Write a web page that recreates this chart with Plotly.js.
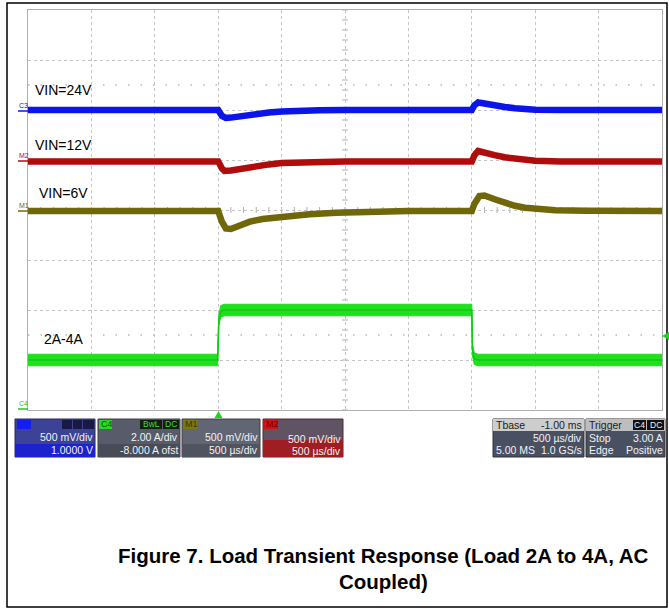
<!DOCTYPE html>
<html>
<head>
<meta charset="utf-8">
<script src="https://cdn.plot.ly/plotly-3.0.1.min.js"></script>
<style>html,body{margin:0;padding:0;background:#fff;}#chart{width:669px;height:609px;}</style>
</head>
<body>
<div id="chart"></div>
<script>
// ---- Data (time in ms, trigger at 0) ----
const timeBlue = [-1.5, 0, 0.03, 0.06, 0.1, 0.2, 0.3, 0.4, 0.5, 0.6, 0.8, 1.0, 2.0, 2.02, 2.05, 2.1, 2.18, 2.26, 2.34, 2.42, 2.5, 2.7, 3.5];
const blueMv   = [0, 0, -60, -80, -76, -55, -38, -25, -15, -8, -3, 0, 0, 45, 75, 65, 43, 30, 18, 9, 3, 0, 0];

const timeRed  = [-1.5, 0, 0.03, 0.05, 0.1, 0.2, 0.3, 0.4, 0.5, 0.7, 1.0, 2.0, 2.02, 2.05, 2.1, 2.18, 2.26, 2.34, 2.42, 2.5, 2.7, 3.5];
const redMv    = [0, 0, -70, -95, -90, -66, -46, -29, -16, -5, 0, 0, 60, 105, 95, 64, 42, 27, 15, 7, 0, 0];

const timeOlive = [-1.5, 0, 0.03, 0.06, 0.1, 0.15, 0.25, 0.35, 0.5, 0.72, 0.93, 1.2, 1.5, 2.0, 2.02, 2.06, 2.1, 2.18, 2.26, 2.34, 2.42, 2.5, 2.66, 2.9, 3.2, 3.5];
const oliveMv   = [0, 0, -110, -175, -180, -150, -106, -80, -56, -33, -18, -6, 0, 0, 70, 150, 155, 117, 80, 52, 32, 20, 8, 2, 0, 0];

const timeGreen = [-1.5, -0.005, 0.005, 0.02, 0.05, 2.0, 2.005, 2.02, 2.05, 3.5];
const loadAmps  = [2, 2, 3.6, 3.95, 4, 4, 2.4, 2.05, 2, 2];

const traceLabels = ["VIN=24V", "VIN=12V", "VIN=6V", "2A-4A"];
const captionLines = ["Figure 7. Load Transient Response (Load 2A to 4A, AC", "Coupled)"];

// ---- helpers: pixel -> paper ----
const PL = 28, PT = 10, PW = 634, PH = 400;
const px = p => (p - PL) / PW;
const py = p => (PT + PH - p) / PH;
const FONT = "Liberation Sans, Arial, sans-serif";

// green noise band half-thickness (style, in A)
const BAND = 0.23;
const greenUpper = loadAmps.map(v => v + BAND);
const greenLower = loadAmps.map(v => v - BAND);

const traces = [
  {x: timeBlue, y: blueMv, yaxis: 'y2', mode: 'lines', line: {color: 'rgb(10,20,235)', width: 6.5}, hoverinfo: 'skip'},
  {x: timeRed, y: redMv, yaxis: 'y3', mode: 'lines', line: {color: 'rgb(175,12,12)', width: 6.5}, hoverinfo: 'skip'},
  {x: timeOlive, y: oliveMv, yaxis: 'y4', mode: 'lines', line: {color: 'rgb(112,104,8)', width: 6.5}, hoverinfo: 'skip'},
  {x: timeGreen, y: greenLower, yaxis: 'y5', mode: 'lines', line: {color: 'rgb(30,220,30)', width: 1}, hoverinfo: 'skip'},
  {x: timeGreen, y: greenUpper, yaxis: 'y5', mode: 'lines', fill: 'tonexty', fillcolor: 'rgb(30,225,30)', line: {color: 'rgb(30,220,30)', width: 1}, hoverinfo: 'skip'},
  {x: timeGreen, y: loadAmps, yaxis: 'y5', mode: 'lines', line: {color: 'rgb(20,200,20)', width: 1.5}, hoverinfo: 'skip'}
];

const shapes = [];
const annotations = [];

// outer frame
shapes.push({type: 'rect', xref: 'paper', yref: 'paper', x0: px(7), x1: px(667), y0: py(3), y1: py(607), line: {color: '#000', width: 1.5}});

// center-line minor ticks
for (let k = -20; k <= 20; k++) {
  shapes.push({type: 'line', layer: 'below', xref: 'paper', yref: 'y', x0: px(342), x1: px(348), y0: k * 0.2, y1: k * 0.2, line: {color: '#b0b0b0', width: 1}});
}
for (let k = 0; k <= 50; k++) {
  const t = -1.5 + k * 0.1;
  shapes.push({type: 'line', layer: 'below', xref: 'x', yref: 'paper', x0: t, x1: t, y0: py(213), y1: py(207), line: {color: '#b0b0b0', width: 1}});
}
// sparse dotted level rows
[2.5, -2.5].forEach(v => shapes.push({type: 'line', layer: 'below', xref: 'paper', yref: 'y', x0: 0, x1: 1, y0: v, y1: v, line: {color: '#b8b8b8', width: 1.5, dash: '1.5px,11px'}}));

// channel tags on left
const tags = [
  {t: 'C3', y: 110, c: 'rgb(10,20,235)'},
  {t: 'M2', y: 160, c: 'rgb(175,12,12)'},
  {t: 'M1', y: 210, c: 'rgb(112,104,8)'},
  {t: 'C4', y: 408, c: 'rgb(30,200,30)'}
];
tags.forEach(g => {
  shapes.push({type: 'line', xref: 'paper', yref: 'paper', x0: px(18), x1: px(28), y0: py(g.y + 1), y1: py(g.y + 1), line: {color: g.c, width: 1.5}});
  annotations.push({xref: 'paper', yref: 'paper', x: px(18), y: py(g.y - 5), text: g.t, showarrow: false, xanchor: 'left', yanchor: 'middle', font: {family: FONT, size: 7, color: g.c}, borderpad: 0});
});

// trigger markers
shapes.push({type: 'path', xref: 'paper', yref: 'paper', path: `M ${px(214.5)},${py(418)} L ${px(222.5)},${py(418)} L ${px(218.5)},${py(411)} Z`, fillcolor: 'rgb(30,210,30)', line: {width: 0}});
shapes.push({type: 'path', xref: 'paper', yref: 'paper', path: `M ${px(662)},${py(336)} L ${px(669)},${py(332)} L ${px(669)},${py(340)} Z`, fillcolor: 'rgb(30,210,30)', line: {width: 0}});

// trace labels
const labelPos = [[35, 90], [35, 145], [39, 193], [44, 339]];
traceLabels.forEach((t, i) => annotations.push({xref: 'paper', yref: 'paper', x: px(labelPos[i][0] - 2), y: py(labelPos[i][1]), text: t, showarrow: false, xanchor: 'left', yanchor: 'middle', font: {family: FONT, size: 14, color: '#000'}}));

// info boxes
function rect(x0, x1, y0, y1, fill, lc) {
  shapes.push({type: 'rect', xref: 'paper', yref: 'paper', x0: px(x0), x1: px(x1), y0: py(y1), y1: py(y0), fillcolor: fill, line: {color: lc || fill, width: lc ? 1 : 0}, layer: 'above'});
}
function txt(t, x, y, anchor, color, size) {
  annotations.push({xref: 'paper', yref: 'paper', x: px(x), y: py(y), text: t, showarrow: false, xanchor: anchor, yanchor: 'middle', font: {family: FONT, size: size || 10.5, color: color || '#f2f2f2'}, borderpad: 0});
}
const Y0 = 419, Y1 = 457;
// C3
rect(15, 95, Y0, Y1, 'rgb(60,66,150)', 'rgb(40,40,90)');
rect(15, 95, 444, Y1, 'rgb(28,34,205)');
rect(17, 31, 420, 429, 'rgb(20,30,240)');
rect(62, 72, 420, 429, 'rgb(25,25,70)'); rect(73, 82, 420, 429, 'rgb(25,25,70)'); rect(83, 94, 420, 429, 'rgb(25,25,70)');
txt('500 mV/div', 94, 437, 'right'); txt('1.0000 V', 94, 450, 'right');
// C4
rect(98, 180, Y0, Y1, 'rgb(88,92,106)', 'rgb(60,60,70)');
rect(98, 180, 444, Y1, 'rgb(72,76,88)');
rect(99, 112, 420, 429, 'rgb(40,215,40)');
txt('C4', 100, 424.5, 'left', 'rgb(0,90,0)', 9);
rect(140, 162, 420, 429, 'rgb(15,30,15)'); rect(163, 179, 420, 429, 'rgb(15,30,15)');
txt('BwL', 151, 424.5, 'center', 'rgb(60,220,60)', 8.5); txt('DC', 171, 424.5, 'center', 'rgb(60,220,60)', 8.5);
txt('2.00 A/div', 179, 437, 'right'); txt('-8.000 A ofst', 179, 450, 'right');
// M1
rect(182, 260, Y0, Y1, 'rgb(98,102,116)', 'rgb(60,60,70)');
rect(182, 260, 444, Y1, 'rgb(80,84,96)');
rect(183, 197, 420, 429, 'rgb(125,118,20)');
txt('M1', 184, 424.5, 'left', 'rgb(60,55,0)', 9);
txt('500 mV/div', 259, 437, 'right'); txt('500 µs/div', 259, 450, 'right');
// M2
rect(263, 343, Y0, Y1, 'rgb(96,84,100)', 'rgb(80,40,50)');
rect(263, 343, 440, Y1, 'rgb(160,30,35)');
rect(264, 278, 420, 429, 'rgb(205,20,20)');
txt('M2', 265, 424.5, 'left', 'rgb(110,0,0)', 9);
txt('500 mV/div', 342, 439, 'right'); txt('500 µs/div', 342, 451, 'right');
// Tbase
rect(493, 584, Y0, Y1, 'rgb(72,80,98)', 'rgb(50,50,60)');
rect(493, 584, Y0, 431, 'rgb(205,205,205)');
txt('Tbase', 495, 425, 'left', '#222'); txt('-1.00 ms', 583, 425, 'right', '#222');
txt('500 µs/div', 583, 438, 'right'); txt('5.00 MS', 495, 450, 'left'); txt('1.0 GS/s', 583, 450, 'right');
// Trigger
rect(586, 665, Y0, Y1, 'rgb(72,80,98)', 'rgb(50,50,60)');
rect(586, 665, Y0, 431, 'rgb(190,190,190)');
rect(633, 646, 420, 430, '#111'); rect(647, 664, 420, 430, '#111');
txt('C4', 639.5, 425, 'center', '#eee', 8.5); txt('DC', 655.5, 425, 'center', '#eee', 8.5);
txt('Trigger', 588, 425, 'left', '#222');
txt('Stop', 588, 438, 'left'); txt('3.00 A', 664, 438, 'right');
txt('Edge', 588, 450, 'left'); txt('Positive', 664, 450, 'right');

// caption
annotations.push({xref: 'paper', yref: 'paper', x: px(383), y: py(555), text: '<b>' + captionLines[0] + '</b>', showarrow: false, xanchor: 'center', yanchor: 'middle', font: {family: FONT, size: 20.5, color: '#000'}});
annotations.push({xref: 'paper', yref: 'paper', x: px(383), y: py(581), text: '<b>' + captionLines[1] + '</b>', showarrow: false, xanchor: 'center', yanchor: 'middle', font: {family: FONT, size: 20.5, color: '#000'}});

const hiddenY = r => ({overlaying: 'y', range: r, visible: false, showgrid: false, zeroline: false, fixedrange: true});

const layout = {
  width: 669, height: 609,
  margin: {l: PL, r: 669 - PL - PW, t: PT, b: 609 - PT - PH, pad: 0},
  paper_bgcolor: '#fff', plot_bgcolor: '#fff',
  showlegend: false,
  xaxis: {range: [-1.5, 3.5], dtick: 0.5, tick0: -1.5, showticklabels: false, ticks: '', showgrid: true, gridcolor: '#c4c4c4', griddash: 'dot', gridwidth: 1, zeroline: false, showline: true, mirror: true, linecolor: '#b0b0b0', linewidth: 1, fixedrange: true},
  yaxis: {range: [-4, 4], dtick: 1, tick0: 0, showticklabels: false, ticks: '', showgrid: true, gridcolor: '#c4c4c4', griddash: 'dot', gridwidth: 1, zeroline: false, showline: true, mirror: true, linecolor: '#b0b0b0', linewidth: 1, fixedrange: true},
  yaxis2: hiddenY([-3000, 1000]),
  yaxis3: hiddenY([-2485, 1515]),
  yaxis4: hiddenY([-1990, 2010]),
  yaxis5: hiddenY([0, 16]),
  shapes: shapes,
  annotations: annotations
};

Plotly.newPlot('chart', traces, layout, {staticPlot: true, displayModeBar: false});
</script>
</body>
</html>
